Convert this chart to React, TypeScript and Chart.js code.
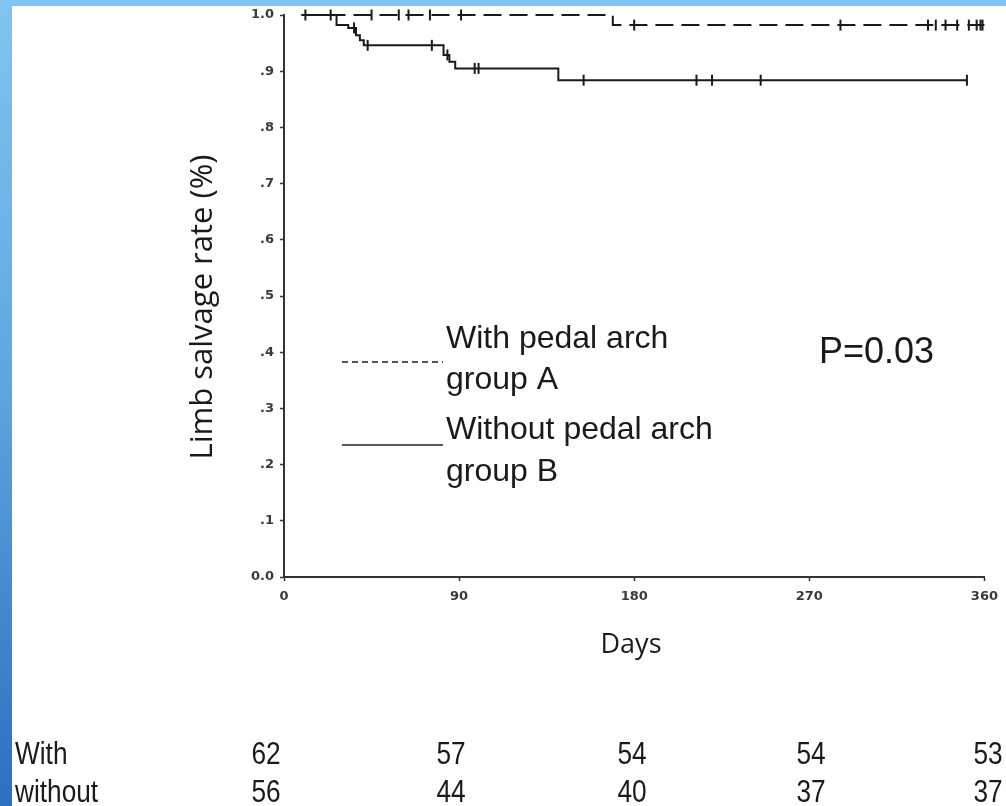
import React, { useEffect, useRef } from "react";
import { Chart, registerables } from "chart.js";

Chart.register(...registerables);

// ---- data ----
const xTickLabels = ["0", "90", "180", "270", "360"];
const yTickLabels = ["0.0", ".1", ".2", ".3", ".4", ".5", ".6", ".7", ".8", ".9", "1.0"];

// Group A: with pedal arch (Kaplan-Meier steps: day, survival after step)
const groupADays = [9, 169, 360];
const groupAValues = [1.0, 0.982, 0.982];
const groupACensorDays = [11, 24, 45, 59, 64, 75, 91, 180, 286, 331, 335, 340, 346, 352, 356, 358, 359];

// Group B: without pedal arch
const groupBDays = [9, 27, 33, 37, 39, 41, 82, 85, 88, 141, 351];
const groupBValues = [1.0, 0.982, 0.977, 0.964, 0.955, 0.946, 0.929, 0.917, 0.905, 0.884, 0.884];
const groupBCensorDays = [36, 43, 76, 84, 98, 100, 154, 212, 220, 245, 351];

// numbers at risk
const atRiskLabels = ["With", "without"];
const atRiskWith = [62, 57, 54, 54, 53];
const atRiskWithout = [56, 44, 40, 37, 37];

const legendLabels = [["With pedal arch", "group A"], ["Without pedal arch", "group B"]];
const pValueText = "P=0.03";
const xTitle = "Days";
const yTitle = "Limb salvage rate (%)";

// ---- layout constants ----
const W = 1006;
const H = 806;
const atRiskColumnX = [266, 451, 632, 811, 988];

function stepValueAt(days: number[], values: number[], t: number): number {
  let v = values[0];
  for (let i = 0; i < days.length; i++) {
    if (days[i] <= t) v = values[i];
  }
  return v;
}

const framePlugin = {
  id: "frame",
  beforeDraw(chart: any) {
    const ctx = chart.ctx;
    ctx.save();
    const g = ctx.createLinearGradient(0, 0, 0, H);
    g.addColorStop(0, "#80c4ef");
    g.addColorStop(0.45, "#62a8df");
    g.addColorStop(1, "#2b6fc0");
    ctx.fillStyle = g;
    ctx.fillRect(0, 0, W, H);
    ctx.fillStyle = "#80c4ef";
    ctx.fillRect(0, 0, W, 6);
    ctx.fillStyle = "#ffffff";
    ctx.fillRect(12, 6, W - 12, H - 6);
    ctx.restore();
  },
  afterDraw(chart: any) {
    const ctx = chart.ctx;
    ctx.save();
    ctx.fillStyle = "#1a1a1a";

    // y title
    ctx.save();
    ctx.translate(203, 307);
    ctx.rotate(-Math.PI / 2);
    ctx.font = '31px "Open Sans"';
    ctx.textAlign = "center";
    ctx.textBaseline = "middle";
    ctx.fillText(yTitle, 0, 0);
    ctx.restore();

    // x title
    ctx.font = '27px "Open Sans"';
    ctx.textAlign = "center";
    ctx.textBaseline = "middle";
    ctx.fillText(xTitle, 631, 645);

    // legend
    ctx.strokeStyle = "#222";
    ctx.lineWidth = 1.6;
    ctx.setLineDash([6, 4]);
    ctx.beginPath();
    ctx.moveTo(342, 362);
    ctx.lineTo(443, 362);
    ctx.stroke();
    ctx.setLineDash([]);
    ctx.beginPath();
    ctx.moveTo(342, 445);
    ctx.lineTo(443, 445);
    ctx.stroke();

    ctx.font = '32px "Liberation Sans"';
    ctx.textAlign = "left";
    ctx.textBaseline = "alphabetic";
    ctx.fillText(legendLabels[0][0], 446, 348);
    ctx.fillText(legendLabels[0][1], 446, 389);
    ctx.fillText(legendLabels[1][0], 446, 439);
    ctx.fillText(legendLabels[1][1], 446, 481);

    // p value
    ctx.font = '36px "Liberation Sans"';
    ctx.fillText(pValueText, 819, 363);

    // numbers at risk (condensed)
    const rows = [atRiskWith, atRiskWithout];
    const baselines = [764, 802];
    ctx.font = '32px "Liberation Sans"';
    rows.forEach((row, r) => {
      ctx.save();
      ctx.translate(15, baselines[r]);
      ctx.scale(0.82, 1);
      ctx.textAlign = "left";
      ctx.fillText(atRiskLabels[r], 0, 0);
      ctx.restore();
      row.forEach((n, i) => {
        ctx.save();
        ctx.translate(atRiskColumnX[i], baselines[r]);
        ctx.scale(0.82, 1);
        ctx.textAlign = "center";
        ctx.fillText(String(n), 0, 0);
        ctx.restore();
      });
    });
    ctx.restore();
  },
};

export default function App() {
  const ref = useRef<HTMLCanvasElement | null>(null);

  useEffect(() => {
    if (!ref.current) return;
    const lineColor = "#1a1a1a";
    const toPts = (days: number[], vals: number[]) => days.map((d, i) => ({ x: d, y: vals[i] }));
    const censorPts = (cd: number[], days: number[], vals: number[]) =>
      cd.map((d) => ({ x: d, y: stepValueAt(days, vals, d) }));

    const tickFont = { family: '"DejaVu Sans"', size: 13, weight: "bold" as const };

    const chart = new Chart(ref.current, {
      type: "line",
      data: {
        datasets: [
          {
            label: "With pedal arch group A",
            data: toPts(groupADays, groupAValues),
            stepped: "before",
            borderColor: lineColor,
            borderWidth: 2,
            borderDash: [18, 8],
            pointRadius: 0,
            fill: false,
            clip: false,
          } as any,
          {
            label: "Without pedal arch group B",
            data: toPts(groupBDays, groupBValues),
            stepped: "before",
            borderColor: lineColor,
            borderWidth: 2,
            pointRadius: 0,
            fill: false,
            clip: false,
          } as any,
          {
            label: "A censored",
            data: censorPts(groupACensorDays, groupADays, groupAValues),
            showLine: false,
            pointStyle: "line",
            rotation: 90,
            pointRadius: 5.5,
            pointBorderWidth: 2,
            pointBorderColor: lineColor,
            borderColor: lineColor,
            clip: false,
          } as any,
          {
            label: "B censored",
            data: censorPts(groupBCensorDays, groupBDays, groupBValues),
            showLine: false,
            pointStyle: "line",
            rotation: 90,
            pointRadius: 5.5,
            pointBorderWidth: 2,
            pointBorderColor: lineColor,
            borderColor: lineColor,
            clip: false,
          } as any,
        ],
      },
      options: {
        animation: false,
        responsive: false,
        maintainAspectRatio: false,
        events: [],
        layout: { padding: { left: 0, right: 21, top: 15, bottom: 0 } },
        plugins: { legend: { display: false }, tooltip: { enabled: false }, title: { display: false } },
        scales: {
          x: {
            type: "linear",
            min: 0,
            max: 360,
            afterFit: (s: any) => {
              s.height = H - 577;
            },
            ticks: {
              stepSize: 90,
              autoSkip: false,
              maxRotation: 0,
              padding: 8,
              color: "#3a3a3a",
              font: tickFont,
              callback: (_v: any, i: number) => xTickLabels[i],
            },
            grid: { drawOnChartArea: false, drawTicks: true, tickLength: 4, tickColor: "#333", tickWidth: 1.5 },
            border: { display: true, color: "#333", width: 2 },
          },
          y: {
            type: "linear",
            min: 0,
            max: 1,
            afterFit: (s: any) => {
              s.width = 284;
            },
            ticks: {
              stepSize: 0.1,
              autoSkip: false,
              padding: 6,
              color: "#3a3a3a",
              font: tickFont,
              callback: (_v: any, i: number) => yTickLabels[i],
            },
            grid: { drawOnChartArea: false, drawTicks: true, tickLength: 4, tickColor: "#333", tickWidth: 1.5 },
            border: { display: true, color: "#333", width: 2 },
          },
        },
      } as any,
      plugins: [framePlugin],
    });
    return () => chart.destroy();
  }, []);

  return (
    <div style={{ position: "absolute", left: 0, top: 0, width: W, height: H }}>
      <canvas ref={ref} width={W} height={H} style={{ width: W, height: H, display: "block" }} />
    </div>
  );
}
